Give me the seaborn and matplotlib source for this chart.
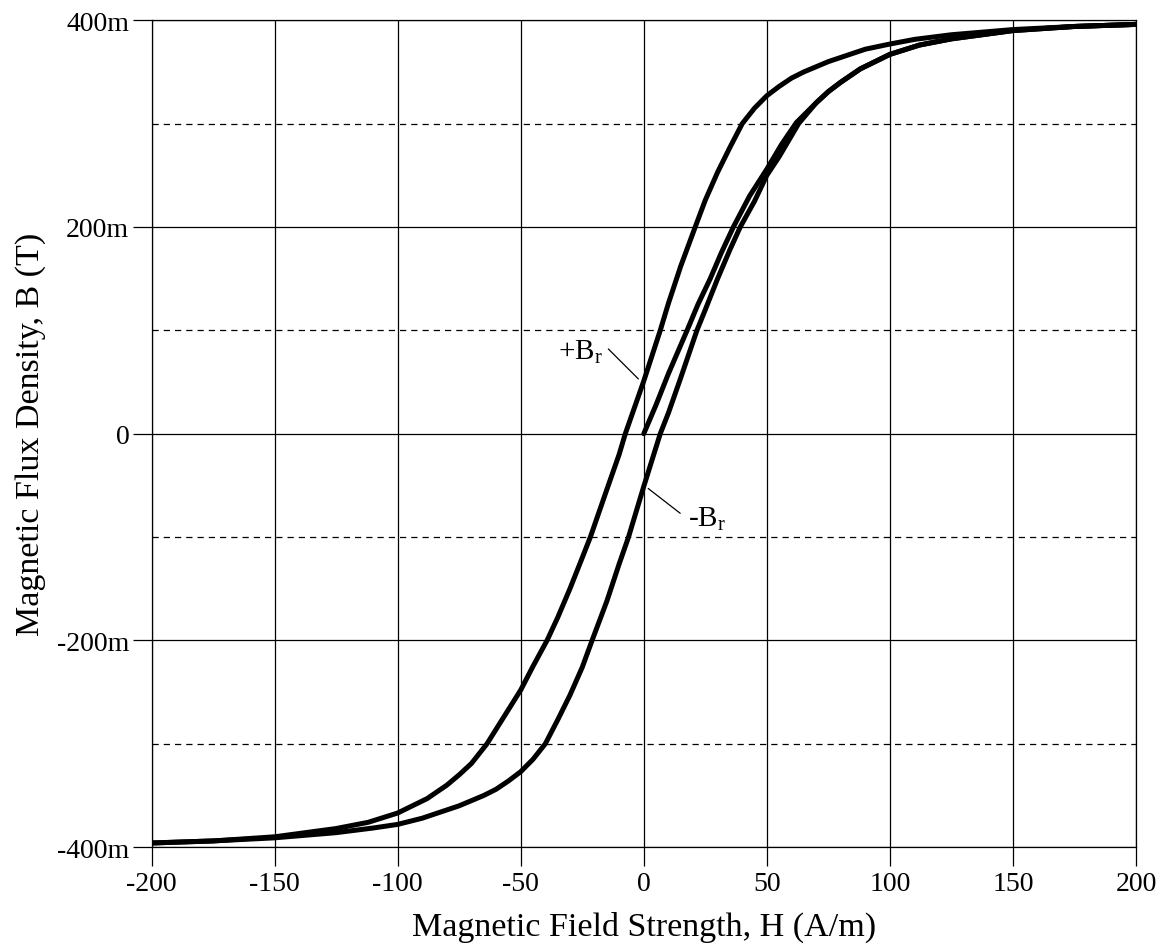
import numpy as np
import pandas as pd
import seaborn as sns
import matplotlib.pyplot as plt
from matplotlib.ticker import MultipleLocator

# descending branch (upper-left), H in A/m, B in mT
h_down = [200, 175, 150, 125, 110, 100, 90, 80, 75, 70, 65, 60, 55, 50, 45, 40, 35, 30,
          25, 20.9, 15, 10, 6.7, 0, -7.5, -10, -15, -21.7, -25, -30, -35, -39.3, -45, -50,
          -55, -63.7, -70, -75, -80, -88, -100, -112, -125, -150, -175, -200]
b_down = [396, 394, 391, 386, 381.5, 377, 372, 364, 360, 355, 350, 344, 336, 327, 315, 300, 277, 253,
          226, 200, 162, 126, 100, 51, 0, -20, -54, -100, -120, -150, -178, -200, -225, -248,
          -267, -300, -319, -330, -340, -353, -367, -376, -382, -390, -394, -396]

# ascending branch (lower-right)
h_up = [-200, -175, -150, -125, -110, -100, -90, -80, -75, -70, -65, -60, -55, -50, -45, -40, -35, -30,
        -25, -21, -15, -10, -6.2, 0, 6.7, 10, 15, 21.6, 25, 30, 35, 39.2, 45, 50,
        55, 62.9, 70, 75, 80, 88, 100, 112, 125, 150, 175, 200]
b_up = [-396, -394, -391, -386, -381.5, -378, -372, -364, -360, -355, -350, -344, -336, -327, -315, -300, -277, -253,
        -226, -200, -162, -126, -100, -51, 0, 20, 54, 100, 120, 150, 178, 200, 225, 250,
        268, 300, 320, 331, 340, 353, 367, 376, 382, 390, 394, 396]

# initial magnetisation curve
h_init = [0, 5, 10, 17.6, 22, 27, 31.5, 36.4, 43, 50, 56, 62, 70, 75, 80, 88, 100, 112, 125, 150, 175, 200]
b_init = [0, 28, 58, 100, 125, 150, 175, 200, 230, 256, 280, 301, 320, 331, 340, 353, 367, 376, 382, 390, 394, 396]

x_ticks = [-200, -150, -100, -50, 0, 50, 100, 150, 200]
y_ticks = [-400, -200, 0, 200, 400]
y_tick_labels = ["-400m", "-200m", "0", "200m", "400m"]

sns.set_theme(style="white")
plt.rcParams['font.family'] = ['Liberation Serif', 'DejaVu Serif']
plt.rcParams['xtick.bottom'] = True
plt.rcParams['ytick.left'] = True
plt.rcParams['xtick.color'] = 'black'
plt.rcParams['ytick.color'] = 'black'

fig = plt.figure(figsize=(11.61, 9.45), dpi=100)
ax = fig.add_axes([0.1305, 0.1025, 0.848, 0.8750])

curves = pd.concat([
    pd.DataFrame({"H": h_down, "B": b_down, "branch": "down"}),
    pd.DataFrame({"H": h_up, "B": b_up, "branch": "up"}),
    pd.DataFrame({"H": h_init, "B": b_init, "branch": "init"}),
], ignore_index=True)

for name, grp in curves.groupby("branch", sort=False):
    sns.lineplot(data=grp, x="H", y="B", sort=False, estimator=None,
                 color="black", linewidth=3.6, ax=ax, zorder=3,
                 solid_joinstyle="round", solid_capstyle="round")

ax.set_xlim(-200, 200)
ax.set_ylim(-400, 400)
ax.set_xticks(x_ticks)
ax.set_xticklabels([str(v) for v in x_ticks])
ax.set_yticks(y_ticks)
ax.set_yticklabels(y_tick_labels)
ax.yaxis.set_minor_locator(MultipleLocator(100))

ax.grid(which="major", axis="both", color="black", linewidth=0.9, linestyle="-")
ax.grid(which="minor", axis="y", color="black", linewidth=0.9, linestyle=(0, (5, 4)))
ax.set_axisbelow(True)

ax.tick_params(axis="both", which="major", direction="out", length=14, width=0.9,
               color="black", labelsize=20, labelcolor="black", bottom=True, left=True)
ax.tick_params(axis="y", which="major", pad=2)
ax.tick_params(axis="x", which="major", pad=3)
ax.tick_params(which="minor", length=0, bottom=False, left=False)

for s in ax.spines.values():
    s.set_color("black")
    s.set_linewidth(0.9)

ax.set_xlabel("Magnetic Field Strength, H (A/m)", fontsize=24.5, color="black", labelpad=11)
ax.set_ylabel("Magnetic Flux Density, B (T)", fontsize=24.5, color="black", labelpad=8)

# remanence labels
ax.plot([-14.4, -2.2], [82, 53], color="black", linewidth=0.9, zorder=4)
ax.text(-16.5, 80, "+B$_\\mathregular{r}$", ha="right", va="center", fontsize=21, color="black")
ax.plot([1.8, 14.8], [-53, -77], color="black", linewidth=0.9, zorder=4)
ax.text(18, -82, "-B$_\\mathregular{r}$", ha="left", va="center", fontsize=21, color="black")

fig.savefig("out.png", dpi=100)
